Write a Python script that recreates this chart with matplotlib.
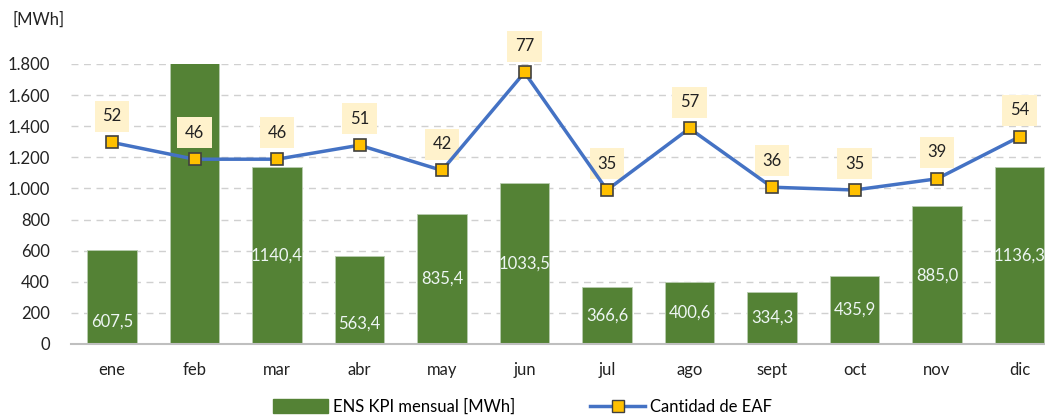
import matplotlib.pyplot as plt
import numpy as np
from matplotlib.lines import Line2D
from matplotlib.patches import Patch
from matplotlib.ticker import FuncFormatter

plt.rcParams['font.family'] = ['Lato', 'DejaVu Sans']

meses = ['ene', 'feb', 'mar', 'abr', 'may', 'jun', 'jul', 'ago', 'sept', 'oct', 'nov', 'dic']
ens_kpi = [607.5, 2050.0, 1140.4, 563.4, 835.4, 1033.5, 366.6, 400.6, 334.3, 435.9, 885.0, 1136.3]
cantidad_eaf = [52, 46, 46, 51, 42, 77, 35, 57, 36, 35, 39, 54]

verde = '#548235'
azul = '#4472C4'
amarillo = '#FFC000'

fig = plt.figure(figsize=(10.45, 4.16), dpi=100)
ax = fig.add_axes([70.75 / 1045, 72 / 416, 990 / 1045, 280 / 416])
x = np.arange(len(meses))

ax.bar(x, ens_kpi, width=0.6, color=verde, edgecolor='#b9cdb0', linewidth=0.6, zorder=2)
ax.set_ylim(0, 1800)
ax.set_xlim(-0.5, len(meses) - 0.5)
ax.set_yticks(np.arange(0, 1801, 200))
ax.yaxis.set_major_formatter(FuncFormatter(lambda v, _: f'{int(v):,}'.replace(',', '.')))
ax.grid(axis='y', color='#d0d0d0', linestyle=(0, (5, 4)), linewidth=1, zorder=0)
ax.set_xticks(x)
ax.set_xticklabels(meses)
ax.tick_params(axis='both', length=0, labelsize=12, colors='#222222')
ax.tick_params(axis='x', pad=13)
ax.tick_params(axis='y', pad=15)
for s in ['top', 'right', 'left']:
    ax.spines[s].set_visible(False)
ax.spines['bottom'].set_color('#bfbfbf')
ax.spines['bottom'].set_linewidth(1.5)

# etiquetas de valor dentro de las barras (ene y abr algo más abajo)
bajar = {0: 160, 3: 150}
for i, v in enumerate(ens_kpi):
    if v > 1800:
        continue
    yl = v / 2 - bajar.get(i, 0)
    ax.text(i, yl, f'{v:.1f}'.replace('.', ','), ha='center', va='center',
            color='#eef6f4', fontsize=12, zorder=3)

ax2 = ax.twinx()
ax2.set_ylim(-20, 80)
ax2.axis('off')
ax2.plot(x, cantidad_eaf, color=azul, linewidth=2.5, marker='s', markersize=8,
         markerfacecolor=amarillo, markeredgecolor='#404040', markeredgewidth=1.2, zorder=4)
for i, n in enumerate(cantidad_eaf):
    ax2.annotate(str(n), (i, n), xytext=(0, 19), textcoords='offset points',
                 ha='center', va='center', fontsize=12, color='#222222',
                 bbox=dict(boxstyle='square,pad=0.45', facecolor='#FFF2CC', edgecolor='none'))

fig.text(12 / 1045, 1 - 20 / 416, '[MWh]', fontsize=12, color='#222222', va='center')

handles = [Patch(facecolor=verde, edgecolor=verde),
           Line2D([], [], color=azul, linewidth=2.5, marker='s', markersize=8,
                  markerfacecolor=amarillo, markeredgecolor='#404040')]
fig.legend(handles, ['ENS KPI mensual [MWh]', 'Cantidad de EAF'], loc='center',
           bbox_to_anchor=(0.5, 9 / 416), ncol=2, frameon=False, fontsize=12,
           handlelength=3.3, handleheight=0.9, columnspacing=4.5, handletextpad=0.3)

fig.savefig('out.png', dpi=100)
